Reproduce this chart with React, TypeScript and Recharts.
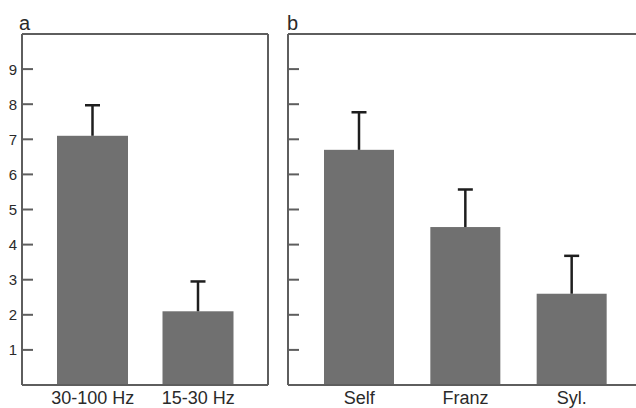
import React from "react";
import { BarChart, Bar, XAxis, YAxis } from "recharts";

const catsA = ["30-100 Hz", "15-30 Hz"];
const meansA = [7.1, 2.1];
const upperA = [7.97, 2.95];

const catsB = ["Self", "Franz", "Syl."];
const meansB = [6.7, 4.5, 2.6];
const upperB = [7.77, 5.57, 3.68];

const yTicks = [1, 2, 3, 4, 5, 6, 7, 8, 9];
const yDomain = [0, 10];

const dataA = catsA.map((c, i) => ({ cat: c, mean: meansA[i], upper: upperA[i] }));
const dataB = catsB.map((c, i) => ({ cat: c, mean: meansB[i], upper: upperB[i] }));

const AXIS = "#5e5e5e";
const BAR = "#707070";
const ERR = "#1e1e1e";
const TEXT = "#2a2a2a";
const FONT = "'Liberation Sans', Arial, Helvetica, sans-serif";

const BarWithErr = (props: any) => {
  const { x, y, width, height, payload, value } = props;
  const v = Array.isArray(value) ? value[1] : value;
  const ppu = v ? height / v : 0;
  const errLen = (payload.upper - payload.mean) * ppu;
  const cx = x + width / 2;
  const top = y - errLen;
  return (
    <g>
      <rect x={x} y={y} width={width} height={height} fill={BAR} />
      <line x1={cx} x2={cx} y1={y} y2={top} stroke={ERR} strokeWidth={2.5} />
      <line x1={cx - 7.5} x2={cx + 7.5} y1={top} y2={top} stroke={ERR} strokeWidth={2.5} />
    </g>
  );
};

const makeTick = (showLabel: boolean) => (props: any) => {
  const { x, y, payload } = props;
  return (
    <g>
      <line x1={x} x2={x + 11} y1={y} y2={y} stroke={AXIS} strokeWidth={2} />
      {showLabel && (
        <text x={x - 5} y={y} dy={5.5} textAnchor="end" fontSize={15} fill={TEXT} fontFamily={FONT}>
          {payload.value}
        </text>
      )}
    </g>
  );
};

const xTickStyle = { fontSize: 18, fill: TEXT, fontFamily: FONT };

export default function App() {
  return (
    <div style={{ position: "absolute", left: 0, top: 0, width: 636, height: 408, overflow: "hidden", background: "#fff" }}>
      <div style={{ position: "absolute", left: 0, top: 0 }}>
        <BarChart width={280} height={408} data={dataA} margin={{ top: 33, right: 11, bottom: 0, left: 0 }}>
          <XAxis
            dataKey="cat"
            height={23}
            padding={{ left: 18, right: 17 }}
            tickLine={false}
            tickSize={0}
            tickMargin={6}
            axisLine={{ stroke: AXIS, strokeWidth: 2 }}
            tick={xTickStyle}
            interval={0}
          />
          <XAxis xAxisId="top" orientation="top" dataKey="cat" height={1} tick={false} tickLine={false} axisLine={{ stroke: AXIS, strokeWidth: 2 }} />
          <YAxis
            width={22}
            domain={yDomain}
            ticks={yTicks}
            tickLine={false}
            tickSize={0}
            tickMargin={0}
            axisLine={{ stroke: AXIS, strokeWidth: 2 }}
            tick={makeTick(true)}
            interval={0}
          />
          <YAxis yAxisId="right" orientation="right" width={1} domain={yDomain} tick={false} tickLine={false} axisLine={{ stroke: AXIS, strokeWidth: 2 }} />
          <Bar dataKey="mean" barSize={71} shape={BarWithErr} isAnimationActive={false} />
        </BarChart>
      </div>
      <div style={{ position: "absolute", left: 266, top: 0 }}>
        <BarChart width={370} height={408} data={dataB} margin={{ top: 33, right: 0, bottom: 0, left: 0 }}>
          <XAxis
            dataKey="cat"
            height={23}
            padding={{ left: 18, right: 11 }}
            tickLine={false}
            tickSize={0}
            tickMargin={6}
            axisLine={{ stroke: AXIS, strokeWidth: 2 }}
            tick={xTickStyle}
            interval={0}
          />
          <XAxis xAxisId="top" orientation="top" dataKey="cat" height={1} tick={false} tickLine={false} axisLine={{ stroke: AXIS, strokeWidth: 2 }} />
          <YAxis
            width={22}
            domain={yDomain}
            ticks={yTicks}
            tickLine={false}
            tickSize={0}
            tickMargin={0}
            axisLine={{ stroke: AXIS, strokeWidth: 2 }}
            tick={makeTick(false)}
            interval={0}
          />
          <Bar dataKey="mean" barSize={70} shape={BarWithErr} isAnimationActive={false} />
        </BarChart>
      </div>
      <svg width={636} height={408} style={{ position: "absolute", left: 0, top: 0, pointerEvents: "none" }}>
        <text x={19} y={30} fontSize={20} fill={TEXT} fontFamily={FONT}>a</text>
        <text x={287} y={30} fontSize={20} fill={TEXT} fontFamily={FONT}>b</text>
      </svg>
    </div>
  );
}
